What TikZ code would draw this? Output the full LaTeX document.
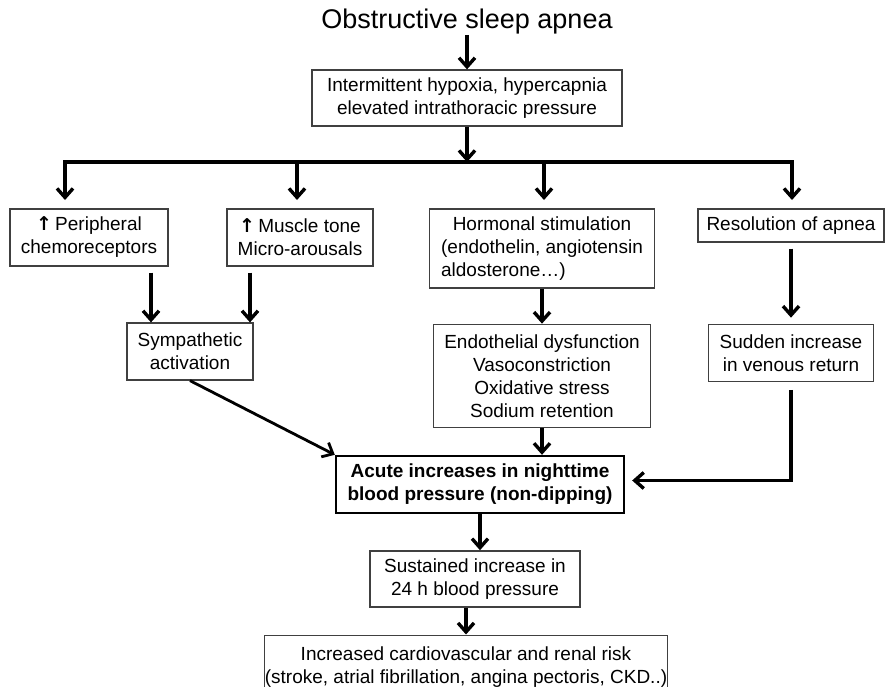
\documentclass[tikz,border=0pt]{standalone}
\usepackage{fontspec}
\setmainfont{Liberation Sans}
\newfontfamily\arrowfont{DejaVu Sans}
\usetikzlibrary{arrows.meta, positioning}

\newcommand{\upmark}{{\arrowfont\bfseries ↑}}

\begin{document}
\begin{tikzpicture}[
    x=1pt, y=-1pt,
    box/.style={draw=black!75, line width=1.3pt, inner sep=0pt, align=center, font=\fontsize{19}{23}\selectfont},
    keybox/.style={box, draw=black, line width=2.4pt, font=\fontsize{19}{23}\selectfont\bfseries},
    arr/.style={-{Straight Barb[length=9pt, width=16pt]}, line width=3.4pt},
    gap/.style={shorten <=6pt}
]
    \useasboundingbox (0,0) rectangle (885,687);
    \clip (0,0) rectangle (885,687);

    \node[font=\fontsize{27}{32}\selectfont, inner sep=0pt] (osa) at (467,22) {Obstructive sleep apnea};
    \node[box, minimum width=310pt, minimum height=56pt] (hyp) at (467,98) {Intermittent hypoxia, hypercapnia\\elevated intrathoracic pressure};

    \node[box, minimum width=158pt, minimum height=57pt] (chemo) at (89,237.5) {\upmark\,Peripheral\\chemoreceptors};
    \node[box, minimum width=146pt, minimum height=57pt] (tone) at (300,237.5) {\upmark\,Muscle tone\\Micro-arousals};
    \node[box, minimum width=225pt, minimum height=79pt] (horm) at (542,248.5) {Hormonal stimulation\\(endothelin, angiotensin\\\rlap{aldosterone…)}\hphantom{(endothelin, angiotensin}};
    \node[box, minimum width=186pt, minimum height=33pt] (resol) at (791,225.5) {Resolution of apnea};

    \node[box, minimum width=126pt, minimum height=57pt] (symp) at (190,351.5) {Sympathetic\\activation};
    \node[box, minimum width=217pt, minimum height=103pt, below=35pt of horm] (endo) {Endothelial dysfunction\\Vasoconstriction\\Oxidative stress\\Sodium retention};
    \node[box, minimum width=165pt, minimum height=57pt, below=81pt of resol] (venous) {Sudden increase\\in venous return};

    \node[keybox, minimum width=288pt, minimum height=57pt] (acute) at (480,484.5) {Acute increases in nighttime\\blood pressure (non-dipping)};
    \node[box, minimum width=210pt, minimum height=56pt, below=36pt of acute, xshift=-5pt] (sust) {Sustained increase in\\24 h blood pressure};
    \node[box, minimum width=398pt, minimum height=64pt, below=27pt of sust, xshift=-9pt] (risk) {Increased cardiovascular and renal risk\\(stroke, atrial fibrillation, angina pectoris, CKD..)};

    % branching bar
    \coordinate (hub) at (467,162);
    \coordinate (tipL) at (65,200);
    \coordinate (tipT) at (297,200);
    \coordinate (tipH) at (544,200);
    \coordinate (tipR) at (792,200);

    \draw[arr] (osa) -- (hyp);
    \draw[arr] (hyp) -- (hub);
    \draw[arr] (hub) -| (tipL);
    \draw[arr] (hub) -| (tipR);
    \draw[arr] (tipT |- hub) -- (tipT);
    \draw[arr] (tipH |- hub) -- (tipH);

    % into sympathetic activation
    \coordinate (inA) at ([xshift=-39pt]symp.north);
    \coordinate (inB) at ([xshift=60pt]symp.north);
    \draw[arr, gap] (inA |- chemo.south) -- (inA);
    \draw[arr, gap] (inB |- tone.south) -- (inB);

    \draw[arr] (horm) -- (endo);
    \draw[arr, gap, shorten >=6pt] (resol) -- (venous);

    % into acute increases
    \draw[arr, line width=2.8pt] (symp.south) -- (acute.north west);
    \draw[arr] (endo) -- (endo.south |- acute.north);
    \draw[arr, shorten <=8pt, shorten >=7pt] (venous.south) |- ([yshift=4pt]acute.east);

    \draw[arr] (acute.south) -- (acute.south |- sust.north);
    \draw[arr] (sust.south -| risk.north) -- (risk.north);
\end{tikzpicture}
\end{document}
